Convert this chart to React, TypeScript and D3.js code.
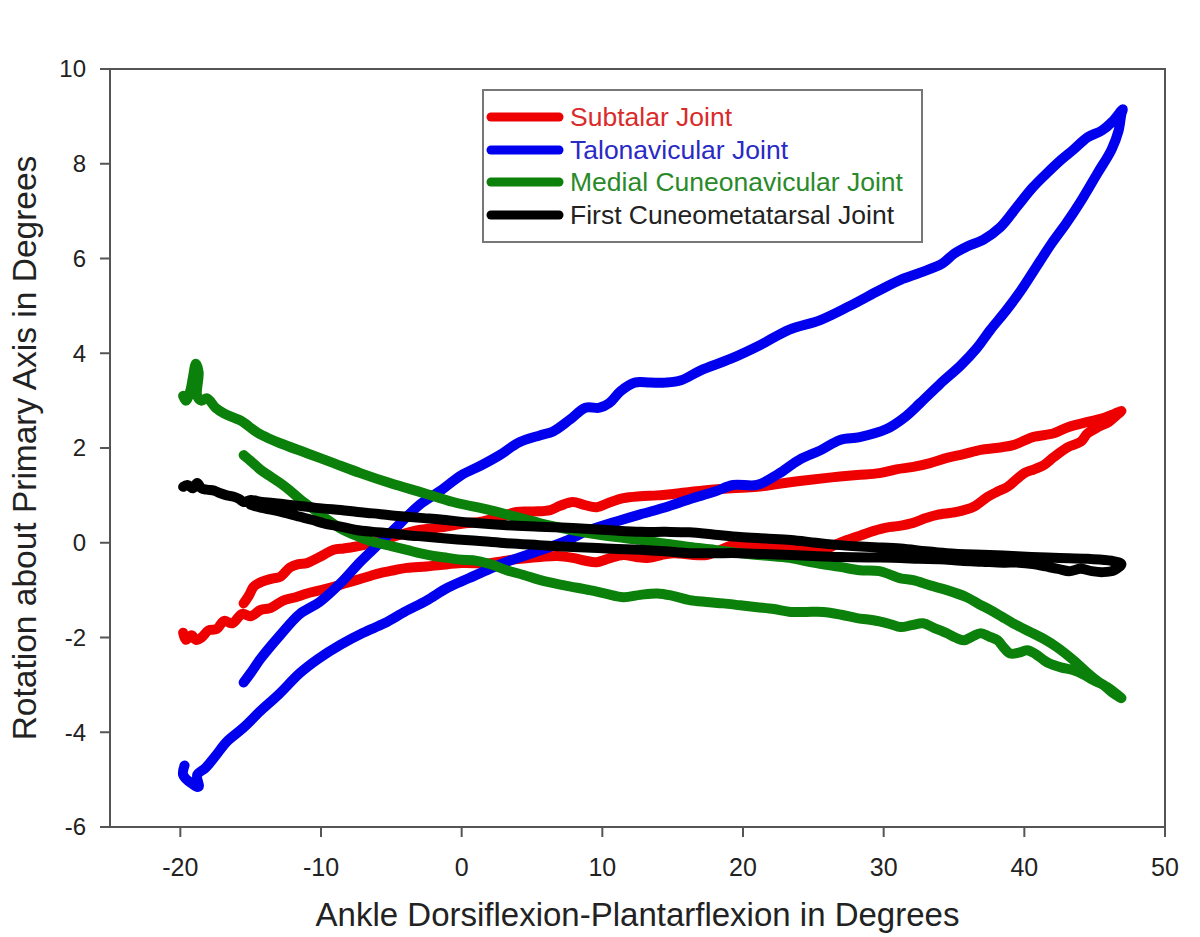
import React from "react";
import * as d3 from "d3";

// ---------- data (x: ankle angle in degrees, y: rotation in degrees) ----------
const xTicks = [-20, -10, 0, 10, 20, 30, 40, 50];
const yTicks = [-6, -4, -2, 0, 2, 4, 6, 8, 10];

const seriesNames = [
  "Subtalar Joint",
  "Talonavicular Joint",
  "Medial Cuneonavicular Joint",
  "First Cuneometatarsal Joint",
];
const lineColors = ["#ee0000", "#0000ee", "#0b800b", "#000000"];
const textColors = ["#d92b2b", "#2a2ac4", "#2a8a2a", "#222222"];

const subtalar: [number, number][] = [
  [-19.8, -1.9], [-19.6, -2.05], [-19.2, -1.95], [-18.9, -2.05], [-18.5, -2.0], [-18.0, -1.85],
  [-17.4, -1.82], [-16.9, -1.65], [-16.3, -1.7], [-15.6, -1.5], [-15.0, -1.55], [-14.3, -1.42],
  [-13.6, -1.38], [-12.7, -1.22], [-11.8, -1.15], [-11, -1.07], [-10, -1.0], [-9.1, -0.93],
  [-8.2, -0.85], [-7.5, -0.79], [-6.5, -0.7], [-5.8, -0.64], [-4.8, -0.58], [-3.9, -0.53],
  [-2.5, -0.5], [-1.5, -0.47], [0, -0.43], [2, -0.43], [3.8, -0.35], [5.6, -0.3], [6.8, -0.28],
  [7.9, -0.32], [8.8, -0.38], [9.6, -0.41], [10.5, -0.33], [11.5, -0.26], [12.4, -0.3],
  [13.2, -0.32], [14.2, -0.26], [15.1, -0.22], [16.2, -0.25], [17.4, -0.26], [18.4, -0.15],
  [19.3, -0.05], [20.2, -0.08], [21.2, -0.09], [22.5, -0.1], [23.6, -0.11], [24.7, -0.14],
  [25.7, -0.15], [26.5, -0.05], [27.4, 0.06], [28.4, 0.16], [29.3, 0.25], [30.2, 0.32],
  [31, 0.35], [32.1, 0.42], [33, 0.52], [33.8, 0.59], [35.2, 0.65], [36.4, 0.76], [37.4, 0.97],
  [38.1, 1.08], [38.8, 1.18], [40, 1.47], [40.7, 1.55], [41.4, 1.64], [42.1, 1.81], [43.1, 2.02],
  [44, 2.13], [44.5, 2.31], [45.3, 2.45], [46, 2.55], [46.6, 2.7], [46.9, 2.78],
  [46.4, 2.72], [45.5, 2.62], [44.5, 2.55], [43.1, 2.44], [42.1, 2.31], [40.6, 2.23],
  [39.2, 2.06], [38, 2.0], [36.9, 1.96], [35.7, 1.87], [34.5, 1.79], [33.3, 1.68], [32.1, 1.6],
  [30.9, 1.55], [29.7, 1.47], [28.1, 1.43], [26.3, 1.38], [24.5, 1.32], [22.7, 1.25], [21, 1.18],
  [19.2, 1.15], [17.4, 1.11], [15.6, 1.05], [13.9, 1.0], [12.7, 0.98], [11.5, 0.94], [10.5, 0.85],
  [9.6, 0.75], [8.7, 0.8], [7.9, 0.86], [7.0, 0.78], [6.3, 0.69], [5.1, 0.66], [3.9, 0.65],
  [2.8, 0.55], [1.5, 0.45], [0, 0.4], [-1.1, 0.34], [-2.1, 0.3], [-3, 0.27], [-4.0, 0.2],
  [-4.9, 0.12], [-5.6, 0.05], [-6.3, 0.0], [-7.0, -0.05], [-7.7, -0.09], [-8.4, -0.12],
  [-9.1, -0.15], [-10.1, -0.3], [-11, -0.43], [-11.6, -0.45], [-12.2, -0.52], [-12.9, -0.72],
  [-13.4, -0.75], [-13.9, -0.79], [-14.4, -0.85], [-14.8, -0.93], [-15.1, -1.1], [-15.5, -1.28],
];

const talonavicular: [number, number][] = [
  [-19.7, -4.7], [-19.8, -4.9], [-19.2, -5.08], [-18.7, -5.15], [-18.8, -4.9], [-18.2, -4.75],
  [-17.5, -4.5], [-16.7, -4.2], [-15.5, -3.9], [-14.3, -3.55], [-13, -3.2], [-11.5, -2.75],
  [-10.2, -2.45], [-8.6, -2.15], [-7, -1.9], [-5.5, -1.7], [-4, -1.45], [-2.5, -1.22],
  [-1, -0.95], [0.5, -0.75], [2, -0.55], [3.5, -0.37], [5.6, -0.16], [7.5, 0.05], [9.1, 0.27],
  [11, 0.45], [12.7, 0.6], [14.5, 0.75], [16.2, 0.92], [18, 1.08], [19.3, 1.22], [21, 1.22],
  [22.5, 1.45], [24, 1.75], [25.5, 1.95], [26.9, 2.17], [28.3, 2.23], [30.2, 2.4], [31.5, 2.65],
  [32.6, 2.95], [34, 3.35], [35.5, 3.75], [36.6, 4.1], [37.6, 4.5], [38.7, 4.9], [39.7, 5.3],
  [40.8, 5.8], [41.9, 6.3], [43, 6.75], [44, 7.2], [45.2, 7.8], [46.2, 8.3], [46.7, 8.7],
  [46.9, 9.05], [47.0, 9.15],
  [46.3, 8.9], [45.5, 8.7], [44.5, 8.56], [43.5, 8.3], [42.6, 8.08], [41.6, 7.8], [40.6, 7.5],
  [39.5, 7.1], [38.3, 6.66], [37.1, 6.4], [35.9, 6.25], [35, 6.1], [34.2, 5.9], [32.6, 5.7],
  [31.2, 5.55], [29.7, 5.33], [27.6, 5.0], [25.5, 4.7], [23.3, 4.5], [21.2, 4.17], [19.1, 3.88],
  [17, 3.64], [15.6, 3.43], [14.5, 3.38], [13.4, 3.38], [12.3, 3.38], [11.3, 3.2], [10.5, 2.95],
  [9.8, 2.85], [8.8, 2.85], [7.7, 2.6], [6.5, 2.35], [5.6, 2.27], [4.1, 2.12], [2.7, 1.85],
  [1.3, 1.62], [0, 1.43], [-1.5, 1.1], [-3, 0.8], [-4.4, 0.4], [-5.8, 0.0], [-7.2, -0.4],
  [-8.6, -0.85], [-10.1, -1.25], [-11.5, -1.5], [-12.9, -1.95], [-14.3, -2.45], [-15.0, -2.75],
  [-15.5, -2.95],
];

const medialCuneonavicular: [number, number][] = [
  [-19.8, 3.1], [-19.6, 3.0], [-19.3, 3.2], [-19.1, 3.5], [-18.9, 3.78], [-18.7, 3.6],
  [-18.8, 3.1], [-18.5, 3.0], [-18.1, 3.05], [-17.5, 2.85], [-16.9, 2.73], [-16.3, 2.65],
  [-15.7, 2.58], [-15.1, 2.45], [-14.5, 2.32], [-13.7, 2.2], [-12.9, 2.1], [-11, 1.89],
  [-9.1, 1.68], [-7.2, 1.47], [-5.1, 1.26], [-2.7, 1.05], [-0.6, 0.86], [2, 0.69], [3.8, 0.55],
  [5.6, 0.41], [7.3, 0.3], [9.1, 0.2], [11, 0.12], [12.7, 0.06], [14.5, -0.02], [16.2, -0.09],
  [18, -0.15], [19.8, -0.22], [21.5, -0.27], [23.3, -0.32], [25, -0.42], [26.9, -0.51],
  [28.3, -0.58], [29.7, -0.6], [31.2, -0.75], [32.1, -0.79], [33.3, -0.9], [34.5, -1.0],
  [35.9, -1.15], [36.8, -1.3], [37.6, -1.42], [38.4, -1.56], [39.2, -1.7], [40.6, -1.91],
  [41.5, -2.05], [42.3, -2.2], [43.5, -2.48], [44.5, -2.75], [45.2, -2.92], [45.9, -3.05],
  [46.5, -3.18], [46.9, -3.28],
  [46.2, -3.15], [45.6, -3.0], [44.9, -2.9], [44.2, -2.78], [43.5, -2.69], [42.6, -2.63],
  [41.8, -2.55], [41.4, -2.48], [40.8, -2.35], [40.2, -2.27], [39.6, -2.32], [39, -2.34],
  [38.5, -2.2], [38.1, -2.06], [37.5, -1.98], [36.9, -1.91], [36.3, -1.98], [35.7, -2.06],
  [35.1, -2.0], [34.5, -1.91], [33.6, -1.8], [32.8, -1.7], [32, -1.74], [31.2, -1.78],
  [30.5, -1.72], [29.7, -1.66], [28.9, -1.62], [28.1, -1.59], [27, -1.52], [25.7, -1.46],
  [24.5, -1.46], [23.4, -1.46], [22.2, -1.4], [21, -1.36], [19.8, -1.32], [18.6, -1.28],
  [17.4, -1.25], [16.2, -1.21], [15, -1.12], [13.9, -1.07], [12.7, -1.1], [11.5, -1.15],
  [10.3, -1.08], [9.1, -1.0], [7.3, -0.9], [5.6, -0.79], [4.4, -0.68], [3.2, -0.58], [2, -0.45],
  [0.8, -0.37], [0, -0.36], [-1, -0.32], [-2, -0.28], [-3, -0.22], [-3.9, -0.15], [-5, -0.07],
  [-6.3, 0.02], [-7.5, 0.15], [-8.6, 0.3], [-9.6, 0.5], [-10.5, 0.7], [-11.5, 0.92],
  [-12.2, 1.1], [-12.9, 1.26], [-13.6, 1.4], [-14.3, 1.54], [-14.9, 1.7], [-15.5, 1.85],
];

const firstCuneometatarsal: [number, number][] = [
  [-19.8, 1.18], [-19.5, 1.22], [-19.1, 1.15], [-18.8, 1.26], [-18.5, 1.15], [-18.1, 1.12],
  [-17.6, 1.1], [-17.2, 1.05], [-16.7, 1.0], [-16.2, 0.97], [-15.8, 0.92], [-15.5, 0.86],
  [-15.0, 0.9], [-14.2, 0.86], [-13.4, 0.84], [-12.2, 0.8], [-11, 0.76], [-9.8, 0.72],
  [-8.6, 0.69], [-7.4, 0.65], [-6.3, 0.62], [-5.1, 0.58], [-3.9, 0.55], [-2.7, 0.52],
  [-1.5, 0.49], [0.8, 0.42], [3.2, 0.37], [5.5, 0.34], [7.9, 0.31], [10.3, 0.27], [12.7, 0.23],
  [14.5, 0.23], [16.2, 0.22], [18, 0.17], [19.8, 0.12], [21.6, 0.09], [23.4, 0.06], [25.2, 0.0],
  [26.9, -0.05], [29, -0.09], [31.2, -0.12], [33, -0.18], [34.5, -0.22], [36.5, -0.25],
  [38.5, -0.27], [40.5, -0.3], [42.5, -0.32], [44.5, -0.34], [46.2, -0.38], [46.9, -0.45],
  [46.4, -0.58], [45.6, -0.62], [44.8, -0.6], [44, -0.55], [43.2, -0.6], [42.4, -0.55],
  [41.5, -0.5], [40.6, -0.45], [39.6, -0.42], [38.5, -0.42], [37, -0.4], [35.5, -0.38],
  [34, -0.35], [32.5, -0.34], [31.2, -0.32], [29, -0.31], [26.9, -0.3], [25, -0.28],
  [23.4, -0.26], [21.5, -0.24], [19.8, -0.22], [18, -0.22], [16.2, -0.22], [14.4, -0.18],
  [12.7, -0.15], [10.3, -0.12], [7.9, -0.09], [5.5, -0.05], [3.2, -0.01], [1.5, 0.03],
  [-0.3, 0.07], [-1.5, 0.1], [-2.7, 0.13], [-3.9, 0.16], [-5.1, 0.2], [-6.3, 0.23],
  [-7.5, 0.27], [-8.6, 0.34], [-9.8, 0.41], [-10.6, 0.48], [-11.5, 0.55], [-12.4, 0.62],
  [-13.4, 0.69], [-14.3, 0.74], [-15.0, 0.8],
];

const allSeries = [subtalar, talonavicular, medialCuneonavicular, firstCuneometatarsal];

// ---------- layout ----------
const W = 1200;
const H = 937;
const left = 110;
const right = 1165;
const top = 69;
const bottom = 827;
const FONT = "'Liberation Sans', Arial, Helvetica, sans-serif";

export default function App() {
  const x = d3.scaleLinear().domain([-25, 50]).range([left, right]);
  const y = d3.scaleLinear().domain([-6, 10]).range([bottom, top]);
  const line = d3
    .line<[number, number]>()
    .x((d) => x(d[0]))
    .y((d) => y(d[1]))
    .curve(d3.curveCatmullRom.alpha(0.5));

  const axisColor = "#555";
  const legX = 483;
  const legY = 90;
  const legW = 439;
  const legH = 152;
  const rowY = [117, 150, 182, 215];

  return (
    <div style={{ position: "absolute", left: 0, top: 0 }}>
      <svg width={W} height={H} style={{ display: "block", background: "#fff" }} fontFamily={FONT}>
        <rect x={0} y={0} width={W} height={H} fill="#fff" />
        {/* data lines */}
        <g fill="none" strokeLinecap="round" strokeLinejoin="round">
          {allSeries.map((s, i) => (
            <path key={i} d={line(s) || ""} stroke={lineColors[i]} strokeWidth={10} />
          ))}
        </g>
        {/* frame */}
        <rect x={left} y={top} width={right - left} height={bottom - top} fill="none" stroke={axisColor} strokeWidth={2} />
        {/* x ticks */}
        {xTicks.map((t) => (
          <g key={"x" + t}>
            <line x1={x(t)} x2={x(t)} y1={bottom} y2={bottom + 10} stroke={axisColor} strokeWidth={2} />
            <text x={x(t)} y={876} textAnchor="middle" fontSize={25} fill="#222">
              {t}
            </text>
          </g>
        ))}
        {/* y ticks */}
        {yTicks.map((t) => (
          <g key={"y" + t}>
            <line x1={left - 10} x2={left} y1={y(t)} y2={y(t)} stroke={axisColor} strokeWidth={2} />
            <text x={86} y={y(t)} dy="0.35em" textAnchor="end" fontSize={24} fill="#222">
              {t}
            </text>
          </g>
        ))}
        {/* axis titles */}
        <text x={(left + right) / 2} y={926} textAnchor="middle" fontSize={33} fill="#222">
          Ankle Dorsiflexion-Plantarflexion in Degrees
        </text>
        <text
          transform={`translate(36, ${(top + bottom) / 2}) rotate(-90)`}
          textAnchor="middle"
          fontSize={33.5}
          fill="#222"
        >
          Rotation about Primary Axis in Degrees
        </text>
        {/* legend */}
        <rect x={legX} y={legY} width={legW} height={legH} fill="#fff" stroke="#777" strokeWidth={2} />
        {seriesNames.map((n, i) => (
          <g key={n}>
            <line x1={491} x2={559} y1={rowY[i]} y2={rowY[i]} stroke={lineColors[i]} strokeWidth={9} strokeLinecap="round" />
            <text x={570} y={rowY[i]} dy="0.35em" fontSize={26.5} fill={textColors[i]}>
              {n}
            </text>
          </g>
        ))}
      </svg>
    </div>
  );
}
